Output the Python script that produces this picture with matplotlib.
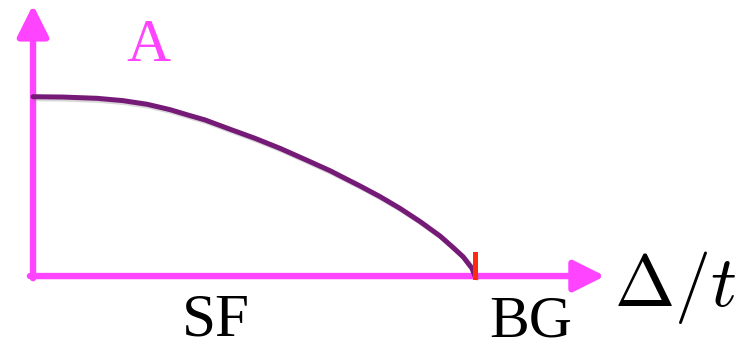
import matplotlib
matplotlib.use('Agg')
import matplotlib.pyplot as plt
import matplotlib.patheffects as pe

# order parameter amplitude A vs Delta/t (SF phase, vanishing at BG point)
delta_t = [0.0, 0.068, 0.145, 0.204, 0.258, 0.310, 0.355, 0.389, 0.446, 0.502, 0.559,
           0.615, 0.672, 0.695, 0.740, 0.785, 0.830, 0.876, 0.921, 0.950, 0.973, 0.993, 1.0]
amp = [0.996, 0.994, 0.987, 0.974, 0.954, 0.924, 0.891, 0.867, 0.815, 0.765, 0.709,
       0.648, 0.585, 0.556, 0.500, 0.441, 0.376, 0.302, 0.222, 0.159, 0.107, 0.043, 0.0]
bg_point = 1.0

magenta = '#ff44ff'
purple = '#761a78'
red = '#ff2a10'

fig = plt.figure(figsize=(7.46, 3.47), dpi=100)
ax = fig.add_axes([0, 0, 1, 1])
ax.set_xlim(-0.0747, 1.613)
ax.set_ylim(-0.394, 1.533)
ax.axis('off')

shadow_line = [pe.SimpleLineShadow(offset=(1.5, -1.5), shadow_color='gray', alpha=0.3), pe.Normal()]
shadow_patch = [pe.SimplePatchShadow(offset=(1.5, -1.5), shadow_rgbFace='gray', alpha=0.35), pe.Normal()]

arrow = dict(arrowstyle='-|>,head_length=19,head_width=9.5', mutation_scale=1,
             lw=4.6, color=magenta, shrinkA=0, shrinkB=0)
# y axis
ann = ax.annotate('', xy=(0, 1.506), xytext=(0, -0.012), arrowprops=arrow)
ann.arrow_patch.set_path_effects(shadow_patch)
# x axis
ann = ax.annotate('', xy=(1.294, 0), xytext=(-0.007, 0), arrowprops=arrow)
ann.arrow_patch.set_path_effects(shadow_patch)

ax.plot(delta_t, amp, color=purple, lw=3.6, solid_capstyle='round', solid_joinstyle='round',
        path_effects=shadow_line, zorder=3)
ax.plot([bg_point, bg_point], [-0.005, 0.122], color=red, lw=3.6, zorder=4)

ax.text(0.262, 1.194, 'A', color=magenta, fontsize=44, family='Liberation Serif',
        ha='center', va='baseline')
ax.text(0.414, -0.330, 'SF', color='black', fontsize=44, family='Liberation Serif',
        ha='center', va='baseline')
ax.text(1.127, -0.338, 'BG', color='black', fontsize=43, family='Liberation Serif',
        ha='center', va='baseline')
ax.text(1.452, -0.061, r'$\Delta/t$', color='black', fontsize=52,
        math_fontfamily='cm', ha='center', va='center')

fig.savefig('out.png', dpi=100)
